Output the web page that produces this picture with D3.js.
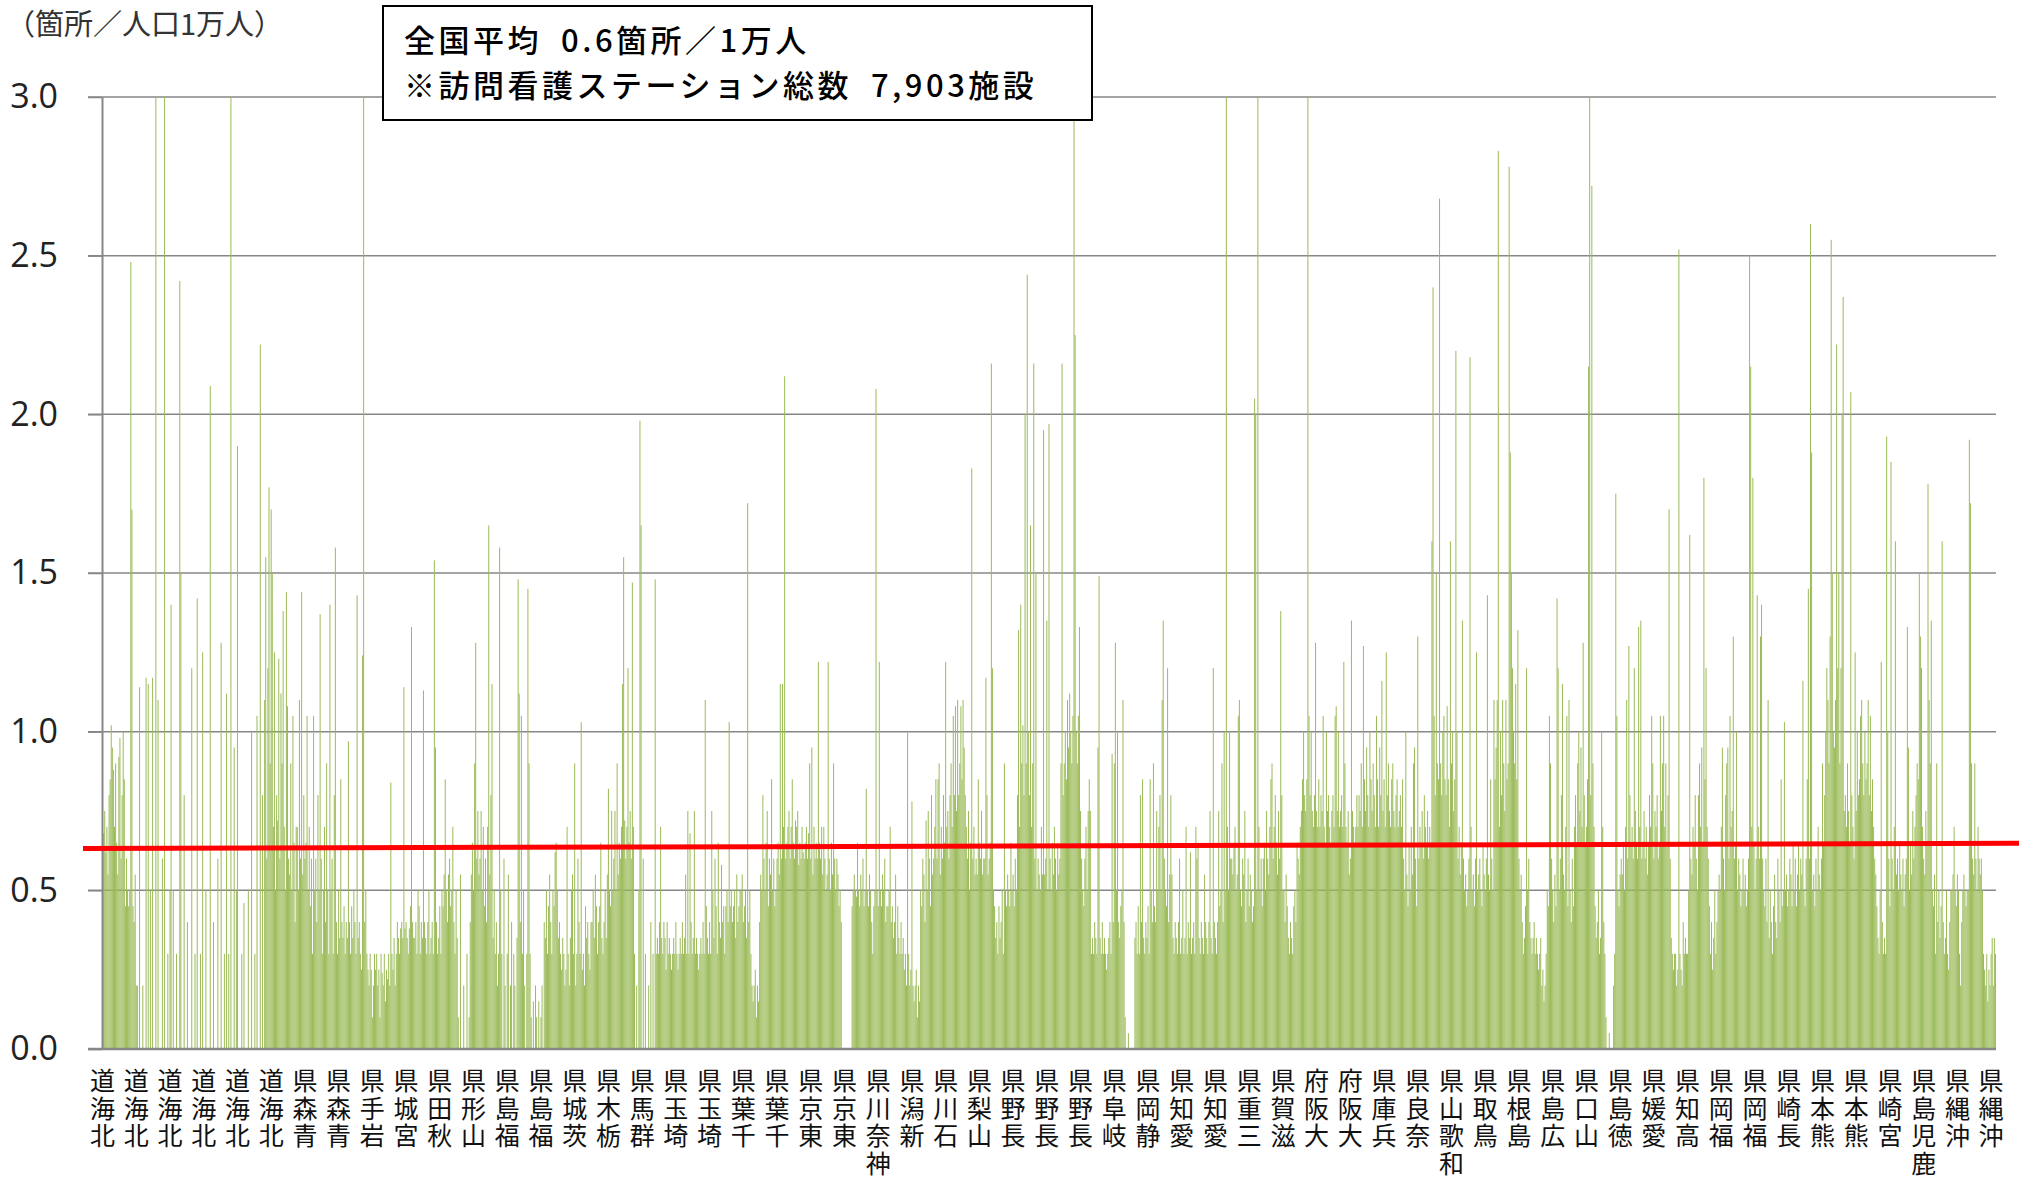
<!DOCTYPE html>
<html>
<head>
<meta charset="utf-8">
<script src="https://cdn.jsdelivr.net/npm/d3@7"></script>
<style>
  body { margin: 0; background: #fff; }
  svg { display: block; }
  .cat { writing-mode: vertical-rl; text-orientation: upright; }
</style>
</head>
<body>
<svg id="chart"></svg>
<script>
// stations per 10,000 people, one value per municipality, grouped by prefecture
const hokkaido = [0.72,0.68,0.75,0.62,0.7,0.55,0.8,0.85,1.02,0.95,0.88,0.7,0.9,0.65,0.55,0.92,0.98,0.6,0.8,1.0,0.85,0.45,0.6,0.5,0.45,0.5,
  2.48,1.7,0.45,0.4,0.55,0.2,0.2,0,1.14,0,0,0.2,0,0,1.17,0,1.15,0,0.5,0,1.17,0,0,3.2,0,1.1,0,0,0,0.6,0,3.2,
  0,0,0.3,0,0.5,1.4,0,0.5,0,0,0.3,0,0,2.42,1.5,0,0,0.8,0,0,0.4,0,0,0,1.2,0,0,0.3,0,1.42,0,0,0.3,0,1.25,
  0,0,0.5,0,0,0,2.09,0,0,0.4,0,0,0,0.6,0,0,1.28,0,0,0.3,0,1.12,0,0.3,0,3.2,0,0,0.95,0,0.5,1.9,0,0,0,0.3,0,0.46,
  0,0,0,0.5,0,0,1.0,0,0,0.3,0,1.05,0,0,2.22,0,0.8,0,1.1,1.55,0.6,1.2,1.77,0.9,1.7,1.5,0.7,1.25,0.5,0.8,0.72,
  1.23,0.6,1.12,0.9,1.38,0.7,0.5,1.44,1.08,0.6,0.55,0.9,0.5,1.05,0.65,0.4,0.7];
const aomori = [0.7,0.5,1.1,0.6,1.44,0.55,0.8,0.6,0.65,1.05,0.5,0.7,0.45,0.6,0.3,1.05,0.5,0.6,0.4,0.8,0.5,1.37,0.6,0.3,0.5,0.7,0.4,0.9,0.5,0.3,1.4,0.5,0.6,0.3,0.8,1.58,0.4,0.3,0.5,0.35];
const iwate = [0.85,0.4,0.35,0.45,0.3,0.4,0.35,0.97,0.4,0.3,0.45,0.35,0.5,0.4,0.3,1.43,0.35,0.4,0.3,0.25,1.24,3.2,0.4,0.5,0.3,0.25,0.2,0.3,0.25,0.1,0.2,0.3,0.25];
const miyagi = [0.3,0.2,0.25,0.1,0.3,0.24,0.2,0.3,0.15,0.25,0.22,0.3,0.2,0.84,0.3,0.25,0.35,0.2,0.3,0.4,0.35,0.3,0.38,0.4,0.35,1.14,0.38,0.4,0.35,0.3,0.38,0.45,1.33,0.4,0.35];
const akita = [0.35,0.4,0.3,0.5,0.45,0.3,0.4,0.35,1.13,0.4,0.35,0.3,0.4,0.5,0.3,0.35,0.4,0.3,1.54,0.95,0.4,0.3,0.35,0.45,0.3];
const yamagata = [0.5,0.45,0.55,0.85,0.5,0.4,0.55,0.6,0.45,0.5,0.7,0.4,0.3,0.5,0.35,0.1,0,0.55,0,0,0.2,0,0,0.3,0,0.1,0.4,0.55,0.65,0.5,0.9,1.28,0.6,0.75,0.55];
const fukushima = [0.6,0.75,0.5,0.7,0.45,0.6,0.4,0.7,1.65,0.55,0.8,1.15,0.35,0.5,0.3,0.4,0.2,0.3,1.58,0.5,0.3,0,0.6,0.2,0,0.3,0.55,0,0.2,0.4,0,0.3,0.2,0,0.35,1.48,1.12,0.4,1.05,0.3,0.5,0.2,0,0.3,1.45,0.9,0.3,0.1,0,0.15,0,0.2,0.1,0,0.15,0,0.1,0.2,0];
const ibaraki = [0.4,0.35,0.5,0.3,0.45,0.55,0.4,0.3,0.5,0.45,0.62,0.65,0.5,0.35,0.4,0.3,0.25,0.35,0.3,0.2,0.25,0.7,0.3,0.2,0.35,0.5,0.55,0.3,0.9,0.2,0.3,0.6,0.4,0.3,1.03,0.25,0.3,0.2,0.45,0.35,0.4,0.3,0.25,0.4];
const tochigi = [0.4,0.5,0.35,0.55,0.45,0.3,0.4,0.45,0.65,0.35,0.3,0.4,0.5,0.35,0.55,0.82,0.5,0.45,0.75,0.5,0.6,0.75,0.5,0.9,0.55];
const gunma = [0.65,0.6,0.7,1.15,1.55,0.72,0.6,0.7,1.2,0.65,0.75,0.6,1.47,0.7,0.3,0,0.2,0,0.5,1.98,1.65,0,0.6,0,0.3,0,0,0.2,0,0.4,0,0.3,0,1.48,0.3];
const saitama = [0.35,0.3,0.4,0.7,0.35,0.3,0.4,0.35,0.25,0.4,0.3,0.35,0.3,0.25,0.3,0.35,0.3,0.4,0.3,0.25,0.3,0.35,0.3,0.4,0.3,0.35,0.55,0.3,0.75,0.3,0.68,0.4,0.3,0.35,0.75,0.3,0.35,0.3,0.25,0.3,0.35,0.3,0.4,0.3,1.1,0.45,0.35,0.3,0.4,0.3,0.75,0.5,0.35,0.6,0.45,0.3,0.65,0.4,0.35,0.58,0.4,0.45,0.3];
const chiba = [0.45,0.5,0.4,1.03,0.45,0.5,0.4,0.45,0.5,0.35,0.55,0.4,0.45,0.5,0.5,0.55,0.4,0.45,0.5,0.35,1.72,0.4,0.5,0.3,0.2,0.15,0.2,0.25,0.1,0.2,0.15,0.4,0.55,0.5,0.8,0.6,0.5,0.65,0.75,0.45,0.6,0.55,0.85,0.5,0.6,0.45,0.5,0.6,0.65,0.55,1.15,0.6,1.15,0.7];
const tokyo = [2.12,0.6,0.65,0.7,0.75,0.6,0.7,0.85,0.65,0.6,0.72,0.7,0.75,0.58,0.65,0.6,0.7,0.62,0.6,0.65,0.7,0.6,0.68,0.9,0.6,0.95,0.55,0.7,0.6,0.65,0.6,1.22,0.65,0.6,0.7,0.55,0.7,0.6,0.5,0.55,1.22,0.6,0.5,0.65,0.55,0.9,0.6,0.5,0.6,0.55,0.45,0.5,0.4,0,0,0,0,0,0,0,0,0];
const kanagawa = [0.45,0.5,0.55,0.5,0.48,0.65,0.5,0.45,0.55,0.5,0.6,0.45,0.5,0.82,0.5,0.45,0.55,0.5,0.4,0.3,0.45,0.5,2.08,0.5,0.45,1.22,0.5,0.45,0.55,0.5,0.6,0.4,0.45];
const niigata = [0.45,0.5,0.7,0.4,0.45,0.35,0.4,0.55,0.3,0.45,0.35,0.3,0.4,0.3,0.35,0.25,0.3,0.2,1.0,0.3,0.2,0.25,0.78,0.2,0.15,0.2,0.25,0.1,0.2,0.15];
const toyama = [0.5,0.45,0.6,0.55,0.4,0.72,0.5,0.75,0.6,0.45,0.8,0.55,0.6,0.7,0.85];
const ishikawa = [0.6,0.85,0.9,0.55,0.7,0.6,0.8,0.65,1.22,0.7,0.75,0.6,0.8,0.9,0.7,1.05,0.8,1.08,0.75];
const fukui = [1.1,0.8,0.9,1.08,0.85,1.1,0.95,0.8,0.7,0.6,0.75,0.5,0.65,1.83,0.6,0.7,0.55];
const yamanashi = [0.6,0.55,0.85,0.65,0.6,0.75,0.55,0.6,0.6,1.17,0.8,0.55,0.6,0.65,2.16,1.2,0.5,0.45,0.35,0.4,0.3,0.45,0.35,0.4,0.5,0.3,0.9];
const nagano = [0.5,0.45,0.55,0.5,0.45,0.65,0.5,0.55,0.45,0.6,0.5,0.8,1.32,0.7,1.4,0.9,1.02,0.8,2.0,0.9,2.44,1.0,0.8,1.65,0.7,0.9,2.16,0.6,1.5,
  0.5,0.6,0.55,0.5,0.7,0.55,1.95,0.55,0.6,1.35,0.5,1.97,0.6,0.5,0.65,0.55,0.7,0.6,0.5,0.65,0.55,0.6,0.9,2.16,
  0.8,0.9,1.0,0.85,1.1,0.95,1.12,1.0,0.9,1.05,3.3,2.25,1.0,0.9,1.05,1.33,0.75,0.6,0.5,0.45,0.6,0.7,0.5,0.75];
const gifu = [0.85,0.75,0.3,0.35,0.3,0.4,0.35,0.3,0.95,1.49,0.35,0.3,0.4,0.3,0.35,0.3,0.25,0.3,0.35,0.4,0.3,0.93,0.4,0.9,1.28,0.5,1.0,0.4,0.35,0.45,0.5,1.1,0.4,0.1,0,0,0.05,0,0,0,0,0];
const shizuoka = [0.35,0.4,0.3,0.45,0.3,0.8,0.4,0.85,0.35,0.3,0.4,0.35,0.45,0.3,0.85,0.5,0.4,0.9,0.45,0.4,0.75,0.5,0.7,0.8,0.5,1.1,1.35,0.6,0.5,0.45,1.2,0.4,0.55,0.8,0.55];
const aichi = [0.35,0.3,0.4,0.35,0.3,0.4,0.6,0.3,0.35,0.5,0.3,0.35,0.7,0.3,0.4,0.35,0.62,0.3,0.35,0.4,0.3,0.7,0.6,0.65,0.35,0.3,0.4,0.35,0.3,0.55,0.4,0.35,0.3,0.4,0.75,0.35,0.3,1.2,0.4,0.35,0.3,0.4,0.75,0.45,0.5,0.9,0.4,1.0,0.5,3.3,0.7,0.5,1.0,0.6];
const mie = [0.6,0.55,0.65,0.7,0.5,0.55,1.05,1.1,0.5,0.45,0.6,0.55,0.75,0.4,0.5,0.6,0.45,0.55,0.5,0.4,0.45,2.05,2.0,0.5,3.3,0.7,0.5,0.6,0.45];
const shiga = [0.6,0.65,0.5,0.75,0.6,0.55,0.7,0.85,0.9,0.6,0.7,0.8,0.65,0.55,0.75,0.6,1.38,0.8,0.5];
const kyoto = [0.5,0.4,0.55,0.45,0.35,0.3,0.4,0.35,0.3,0.45,0.5,0.4,0.65,0.6,0.55,0.7,0.75,0.85,1.0,0.8,0.75,0.85,3.3,1.05,0.8,1.0];
const osaka = [0.75,0.7,0.8,1.28,0.75,0.7,0.85,0.7,0.8,0.75,1.05,0.7,0.65,1.0,0.75,0.8,0.7,0.65,0.75,0.8,0.7,1.05,1.08,0.75,1.0,0.7,0.75,0.8,0.7,1.22,0.9,0.7,0.65,0.75,0.55,0.6,1.35,0.75,0.7,0.65,0.7,0.8,0.7];
const hyogo = [0.8,0.75,0.9,0.7,1.27,0.85,0.75,0.95,0.8,0.7,1.0,0.85,0.75,0.9,0.8,0.7,1.05,0.85,0.7,0.95,0.8,1.16,0.75,0.85,0.7,1.25,0.8,0.9,0.75,0.7,0.85,0.9,0.75,0.7,0.8,0.85,0.7,0.75,0.8,0.7,0.85];
const nara = [0.6,0.5,1.0,0.55,0.45,0.65,0.5,0.7,0.55,0.9,0.95,0.6,0.45,1.3,0.6,0.7,0.65,0.75,0.6,0.8,0.7,0.65,0.75,0.6,0.7,0.65,1.6,2.4,1.05,0.8,1.5,0.9,0.85,2.68,0.9,0.8,1.0,1.05,0.85];
const wakayama = [0.8,1.08,0.85,0.7,1.6,0.9,1.0,0.75,0.85,2.2,1.0,0.6,0.7,0.55,0.65,1.35,0.6,0.5,0.55,0.45,0.5,0.6,2.18,0.7,0.5,0.55,0.45,0.6,1.25,0.5];
const tottori = [0.55,0.6,0.5,0.45,0.65,0.55,0.5,0.6,1.43,0.55,0.5,0.85,0.6,0.5,1.1,0.85,0.95,1.1,2.83];
const shimane = [0.7,1.0,0.8,1.1,0.9,0.75,1.1,0.85,0.9,2.78,1.88,1.5,1.2,1.0,0.9,1.15,0.85,1.32,0.6];
const okayama = [0.5,0.55,0.4,0.3,0.35,0.45,1.2,0.5,0.6,0.4,0.35,0.3,0.35,0.4,0.3,0.35,0.3,0.25,0.3,0.35,0.2,0.25,0.15,0.2,0.3,0.5,0.45];
const hiroshima = [1.05,0.9,0.6,0.5,0.4,0.55,0.45,1.42,1.2,0.5,0.6,0.8,1.15,0.55,0.5,0.7,1.05,0.45,1.1,0.5,0.4,0.6,0.45];
const yamaguchi = [0.7,0.8,0.65,0.9,1.0,0.75,0.95,0.7,1.28,0.8,0.65,0.7,0.85,2.15,3.3,0.8,2.72,0.9,0.7];
const tokushima = [0.45,0.35,0.4,0.5,0.3,0.35,1.0,0.7,0.4,0.3,0.1,0,0,0.05,0,0,0,0.2,0.3,1.75,1.05,0.5,0.45,0.55];
const kagawa = [0.6,0.55,0.65,0.5,0.7,1.1,0.6,1.27,0.8,0.65,0.7,0.6,1.2,0.75,0.65,0.6,1.33];
const ehime = [0.7,1.35,0.6,0.65,0.75,0.6,0.7,0.55,0.65,0.8,0.7,1.05,0.9,0.6,0.75,0.7,0.8,0.6,0.65,1.05];
const kochi = [0.75,0.9,1.05,0.7,0.9,0.65,0.8,1.7,0.6,0.35,0.3,0.25,0.3,0.3,0.2,0.25,2.52,0.3,0.25,0.2,0.4,0.3,0.35,0.3,0.3,0.5,1.62,0.6,0.55,0.7,0.65,0.8,0.6,0.5];
const fukuoka = [0.8,0.9,0.7,0.95,0.65,1.8,0.85,1.2,0.7,0.6,0.45,0.3,0.4,0.25,0.35,0.5,0.3,0.4,0.5,0.55,0.5,0.7,0.95,0.6,0.5,0.8,0.9,0.95,0.6,1.05,0.7,0.75,1.3,0.6,0.65,1.0,0.5,0.6,0.55,0.45,0.5,0.6,0.5,0.55,0.45,0.5,0.6,2.5,2.15,0.7,1.8,0.65,0.5,0.6,1.43,0.7,0.6,1.3,1.4,0.6];
const saga = [0.5,0.45,0.6,0.4,1.1,0.35,0.5,0.4,0.3,0.45,0.55,0.4,0.35,0.6,0.5,0.4,0.85,0.45,0.5,1.03];
const nagasaki = [0.5,0.55,0.45,0.5,0.6,0.55,0.45,0.65,0.5,0.6,0.45,0.55,0.65,0.5,0.6,0.55,1.16,0.5,0.45,0.6,0.85];
const kumamoto = [1.45,0.6,2.6,1.88,0.5,0.55,0.45,0.6,0.5,0.7,0.55,0.5,0.6,0.9,0.65,0.8,1.0,1.2,1.1,0.9,1.3,2.55,1.5,1.0,0.95,1.1,2.22,1.2,1.5,0.9,1.2,2.0,2.37,0.75,0.8,0.7,0.9,0.75,0.65,2.07,0.8,0.7,0.6,1.25,0.75];
const oita = [1.0,0.8,0.85,1.05,1.1,0.9,0.8,1.0,0.85,0.9,1.1,0.8,1.05,0.75,0.85,0.7,0.6,0.55];
const miyazaki = [0.45,0.35,0.3,0.5,1.22,0.4,0.3,0.35,0.3,1.93,1.0,0.6,0.45,1.85,0.6,0.5,0.7,1.6,0.55,0.6,0.5,0.65,0.55,0.5,0.6,0.45];
const kagoshima = [0.55,0.6,1.33,0.95,0.5,0.65,0.55,0.75,0.6,0.7,0.8,0.9,0.85,1.5,1.3,1.2,0.7,0.6,0.55,0.75,0.65,1.78,1.1,0.9,1.35,0.5,0.45,0.55,0.3,0.9,0.4,0.5,0.35,0.45,1.6,0.4,0.3,0.35,0.5,0.3,0.25,0.4,0.5];
const okinawa = [0.5,0.55,0.7,0.5,0.45,0.55,0.5,0.3,0.2,0.4,0.5,0.55,0.5,0.45,0.5,0.5,1.92,1.72,0.9,0.6,0.55,0.9,0.6,0.5,0.7,0.6,0.55,0.6,0.5,0.3,0.25,0.2,0.3,0.15,0.25,0.2,0.3,0.35,0.2,0.35,0.3];

const prefectures = [
  ["北海道", hokkaido], ["青森県", aomori], ["岩手県", iwate], ["宮城県", miyagi], ["秋田県", akita],
  ["山形県", yamagata], ["福島県", fukushima], ["茨城県", ibaraki], ["栃木県", tochigi], ["群馬県", gunma],
  ["埼玉県", saitama], ["千葉県", chiba], ["東京県", tokyo], ["神奈川県", kanagawa], ["新潟県", niigata],
  ["富山県", toyama], ["石川県", ishikawa], ["福井県", fukui], ["山梨県", yamanashi], ["長野県", nagano],
  ["岐阜県", gifu], ["静岡県", shizuoka], ["愛知県", aichi], ["三重県", mie], ["滋賀県", shiga],
  ["京都府", kyoto], ["大阪府", osaka], ["兵庫県", hyogo], ["奈良県", nara], ["和歌山県", wakayama],
  ["鳥取県", tottori], ["島根県", shimane], ["岡山県", okayama], ["広島県", hiroshima], ["山口県", yamaguchi],
  ["徳島県", tokushima], ["香川県", kagawa], ["愛媛県", ehime], ["高知県", kochi], ["福岡県", fukuoka],
  ["佐賀県", saga], ["長崎県", nagasaki], ["熊本県", kumamoto], ["大分県", oita], ["宮崎県", miyazaki],
  ["鹿児島県", kagoshima], ["沖縄県", okinawa]
];

const yTicks = [0, 0.5, 1.0, 1.5, 2.0, 2.5, 3.0];
const nationalAvg = [0.632, 0.648];   // red line, left end / right end
const labelEvery = 31;                // excel shows every 31st category name
const unitLabel = "（箇所／人口1万人）";
const noteLines = ["全国平均\u20020.6箇所／1万人", "※訪問看護ステーション総数\u20027,903施設"];

const width = 2022, height = 1179;
const plot = { left: 102, right: 1996, top: 97, bottom: 1049 };
const jpFont = "'Noto Sans CJK JP', 'Noto Sans', sans-serif";
const gridColor = "#878787";

// flatten into one row per municipality
const rows = [];
prefectures.forEach(([name, vals]) => {
  vals.forEach(v => rows.push({ pref: name, value: v, idx: rows.length }));
});

const svg = d3.select("#chart").attr("width", width).attr("height", height);

const x = d3.scaleBand()
  .domain(rows.map(d => d.idx))
  .range([plot.left, plot.right])
  .paddingInner(0.08)
  .paddingOuter(0.04);

const y = d3.scaleLinear().domain([0, 3]).range([plot.bottom, plot.top]).clamp(true);

// gridlines
svg.append("g")
  .selectAll("line")
  .data(yTicks.filter(t => t > 0))
  .join("line")
  .attr("x1", plot.left - 14)
  .attr("x2", plot.right)
  .attr("y1", d => y(d))
  .attr("y2", d => y(d))
  .attr("stroke", gridColor)
  .attr("stroke-width", 1.5);

// bars
svg.append("g")
  .selectAll("rect")
  .data(rows)
  .join("rect")
  .attr("x", d => x(d.idx))
  .attr("width", x.bandwidth())
  .attr("y", d => y(d.value))
  .attr("height", d => y(0) - y(d.value))
  .attr("fill", "#9bbb59");

// y axis
const yAxis = svg.append("g")
  .attr("transform", `translate(${plot.left},0)`)
  .call(d3.axisLeft(y).tickValues(yTicks).tickSize(14).tickSizeOuter(0).tickPadding(30).tickFormat(d3.format(".1f")));
yAxis.select(".domain").attr("stroke", gridColor).attr("stroke-width", 2);
yAxis.selectAll(".tick line").attr("stroke", gridColor).attr("stroke-width", 1.5);
yAxis.selectAll(".tick text")
  .attr("font-family", "'Open Sans', 'Noto Sans', sans-serif")
  .attr("font-size", 34)
  .attr("fill", "#222");

// x axis baseline
svg.append("line")
  .attr("x1", plot.left - 14)
  .attr("x2", plot.right)
  .attr("y1", y(0))
  .attr("y2", y(0))
  .attr("stroke", gridColor)
  .attr("stroke-width", 2.5);

// category labels: upright stacked characters, read from the bottom up
const labelRows = rows.filter(d => d.idx % labelEvery === 0);
svg.append("g")
  .selectAll("text")
  .data(labelRows)
  .join("text")
  .attr("class", "cat")
  .attr("x", d => x(d.idx) + x.bandwidth() / 2)
  .attr("y", 1068)
  .attr("font-family", jpFont)
  .attr("font-size", 25)
  .attr("letter-spacing", 2.5)
  .attr("fill", "#111")
  .text(d => Array.from(d.pref).reverse().join(""));

// national average line
const avgX = [plot.left - 19, plot.right + 23];
svg.append("path")
  .datum(nationalAvg)
  .attr("d", d3.line().x((d, i) => avgX[i]).y(d => y(d)))
  .attr("stroke", "#ff0000")
  .attr("stroke-width", 5)
  .attr("fill", "none");

// unit label
svg.append("text")
  .attr("x", 6)
  .attr("y", 25)
  .attr("dy", "0.36em")
  .attr("font-family", jpFont)
  .attr("font-size", 29)
  .attr("fill", "#333")
  .text(unitLabel);

// note box
const note = svg.append("g").attr("transform", "translate(383,6)");
note.append("rect")
  .attr("width", 709)
  .attr("height", 114)
  .attr("fill", "#fff")
  .attr("stroke", "#000")
  .attr("stroke-width", 2);
note.selectAll("text")
  .data(noteLines)
  .join("text")
  .attr("x", 21)
  .attr("y", (d, i) => 35 + i * 45)
  .attr("dy", "0.36em")
  .attr("font-family", jpFont)
  .attr("font-size", 31)
  .attr("letter-spacing", 3.5)
  .attr("font-weight", 500)
  .attr("fill", "#000")
  .text(d => d);
</script>
</body>
</html>
